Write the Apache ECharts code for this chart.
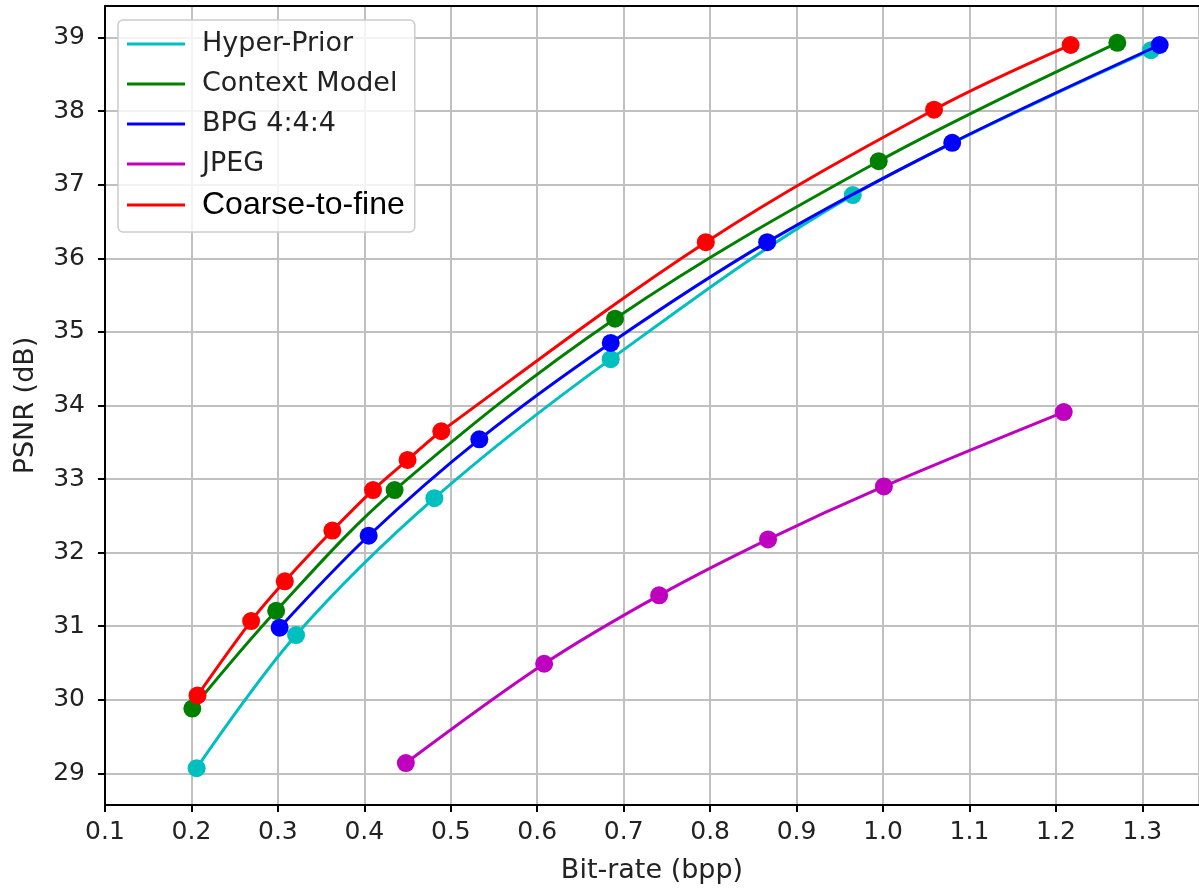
<!DOCTYPE html>
<html>
<head>
<meta charset="utf-8">
<script src="https://cdn.jsdelivr.net/npm/echarts@6/dist/echarts.min.js"></script>
<style>html,body{margin:0;padding:0;background:#fff;}#c{width:1199px;height:889px;}</style>
</head>
<body>
<div id="c"></div>
<script>
// ---- data ----
const seriesNames = ['Hyper-Prior', 'Context Model', 'BPG 4:4:4', 'JPEG', 'Coarse-to-fine'];
const hyperX = [0.206, 0.321, 0.481, 0.685, 0.965, 1.310];
const hyperY = [29.07, 30.88, 32.74, 34.63, 36.86, 38.83];
const contextX = [0.201, 0.298, 0.435, 0.690, 0.995, 1.271];
const contextY = [29.88, 31.21, 32.85, 35.18, 37.32, 38.93];
const bpgX = [0.302, 0.405, 0.533, 0.685, 0.866, 1.080, 1.320];
const bpgY = [30.98, 32.23, 33.54, 34.85, 36.22, 37.57, 38.90];
const jpegX = [0.448, 0.608, 0.741, 0.867, 1.001, 1.209];
const jpegY = [29.14, 30.49, 31.42, 32.18, 32.90, 33.91];
const c2fX = [0.207, 0.269, 0.308, 0.363, 0.410, 0.450, 0.489, 0.795, 1.059, 1.217];
const c2fY = [30.06, 31.07, 31.61, 32.30, 32.85, 33.26, 33.65, 36.22, 38.02, 38.90];
const yTicks = [29, 30, 31, 32, 33, 34, 35, 36, 37, 38, 39];
const xLabel = 'Bit-rate (bpp)';
const yLabel = 'PSNR (dB)';

const colors = ['#00bfbf', '#008000', '#0000ff', '#bf00bf', '#ff0000'];
const xs = [hyperX, contextX, bpgX, jpegX, c2fX];
const ys = [hyperY, contextY, bpgY, jpegY, c2fY];

const chart = echarts.init(document.getElementById('c'));
const tickFont = 'DejaVu Sans';
const xMin = 0.1, xMax = 1.3655;

const series = seriesNames.map((name, i) => ({
  name: name,
  type: 'line',
  xAxisIndex: 0,
  data: xs[i].map((x, k) => [x, ys[i][k]]),
  smooth: 0.35,
  symbol: 'circle',
  symbolSize: 18,
  showAllSymbol: true,
  clip: false,
  itemStyle: { color: colors[i] },
  lineStyle: { color: colors[i], width: 3 },
  emphasis: { disabled: true },
  z: 2 + i
}));

chart.setOption({
  backgroundColor: '#fff',
  animation: false,
  color: colors,
  grid: {
    left: 105, top: 6, width: 1094, height: 799,
    show: false
  },
  legend: {
    left: 118, top: 20,
    orient: 'vertical',
    data: seriesNames.map(n => ({ name: n, icon: 'rect' })),
    itemWidth: 58, itemHeight: 3,
    itemGap: 10,
    padding: [9, 10, 11, 9],
    backgroundColor: 'rgba(255,255,255,0.8)',
    borderColor: '#cccccc', borderWidth: 1.5, borderRadius: 5,
    formatter: function (name) {
      return name === 'Coarse-to-fine' ? '{b|' + name + '}' : '{a|' + name + '}';
    },
    textStyle: {
      padding: [0, 0, 0, 12],
      rich: {
        a: { fontFamily: tickFont, fontSize: 27, lineHeight: 30, height: 30, color: '#222' },
        b: { fontFamily: 'Liberation Sans', fontSize: 32, lineHeight: 30, height: 30, color: '#000' }
      }
    }
  },
  xAxis: [{
    type: 'value',
    min: xMin, max: xMax, interval: 0.1,
    name: xLabel, nameLocation: 'middle', nameGap: 52,
    nameTextStyle: { fontFamily: tickFont, fontSize: 27, color: '#222' },
    axisLine: { show: true, onZero: false, lineStyle: { color: '#000', width: 2 } },
    axisTick: { show: true, inside: false, length: 7, lineStyle: { color: '#000', width: 2 } },
    axisLabel: {
      show: true, margin: 15, showMinLabel: true, showMaxLabel: false,
      fontFamily: tickFont, fontSize: 25, color: '#222',
      formatter: v => (Math.round(v * 10) / 10).toFixed(1)
    },
    splitLine: { show: true, lineStyle: { color: '#c0c0c0', width: 2 } }
  }, {
    type: 'value', position: 'top',
    min: xMin, max: xMax, interval: 0.1,
    axisLine: { show: true, onZero: false, lineStyle: { color: '#000', width: 2 } },
    axisTick: { show: false }, axisLabel: { show: false }, splitLine: { show: false }
  }],
  yAxis: {
    type: 'value',
    min: 28.57, max: 39.43,
    name: yLabel, nameLocation: 'middle', nameGap: 66,
    nameTextStyle: { fontFamily: tickFont, fontSize: 27, color: '#222' },
    axisLine: { show: true, onZero: false, lineStyle: { color: '#000', width: 2 } },
    axisTick: { show: true, inside: false, length: 7, lineStyle: { color: '#000', width: 2 }, customValues: yTicks },
    axisLabel: {
      show: true, margin: 20, customValues: yTicks,
      fontFamily: tickFont, fontSize: 25, color: '#222',
      formatter: v => String(Math.round(v))
    },
    splitLine: { show: true, lineStyle: { color: '#c0c0c0', width: 2 } }
  },
  series: series
});
</script>
</body>
</html>
